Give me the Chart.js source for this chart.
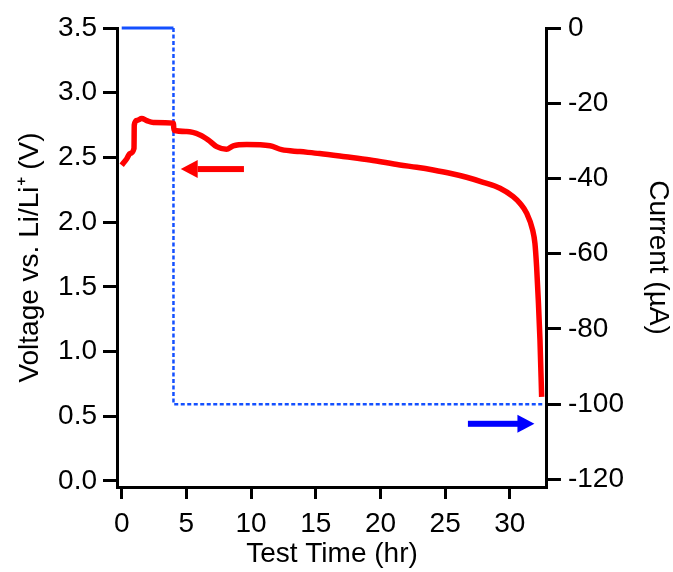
<!DOCTYPE html>
<html>
<head>
<meta charset="utf-8">
<script src="https://cdn.jsdelivr.net/npm/chart.js@4.4.1/dist/chart.umd.min.js"></script>
<style>
  html, body { margin: 0; padding: 0; background: #fff; }
  #wrap { width: 673px; height: 572px; }
</style>
</head>
<body>
<div id="wrap"><canvas id="chart" width="673" height="572"></canvas></div>
<script>
// voltage trace (left axis)
const timeHr = [0, 0.39, 0.64, 0.95, 0.97, 1.16, 1.55, 1.93, 2.44, 3.99, 4.04, 5.02, 6.05, 6.69, 7.34, 8.1, 8.62, 9.66, 11.46, 12.36, 13.78, 15.3, 17.3, 19.2, 21.5, 22.8, 24.08, 25.37, 26.66, 27.94, 29.24, 30.26, 30.78, 31.3, 31.76, 31.94, 32.07, 32.2, 32.33, 32.46];
const voltage = [2.44, 2.49, 2.53, 2.57, 2.75, 2.785, 2.80, 2.785, 2.77, 2.765, 2.71, 2.70, 2.674, 2.635, 2.583, 2.563, 2.59, 2.60, 2.59, 2.56, 2.545, 2.53, 2.505, 2.48, 2.442, 2.424, 2.403, 2.378, 2.347, 2.308, 2.262, 2.197, 2.146, 2.069, 1.94, 1.837, 1.656, 1.40, 1.09, 0.65];

// applied current (right axis): rest at 0, then constant discharge
const currentTime = [0, 4.0, 4.0, 32.55];
const current = [0, 0, -100, -100];

// tick labels
const timeTicks = [0, 5, 10, 15, 20, 25, 30];
const voltTicks = [0, 0.5, 1.0, 1.5, 2.0, 2.5, 3.0, 3.5];
const currTicks = [0, -20, -40, -60, -80, -100, -120];

// arrows pointing to the axis each trace belongs to (data units)
const arrows = [
  { axis: "y", x0: 9.37, x1: 4.56, v: 2.41, color: "#ff0000" },
  { axis: "y1", x0: 26.76, x1: 31.9, v: -105.2, color: "#0000ff" }
];

const FONT = { family: "'Liberation Sans', Arial, sans-serif", size: 28 };

const arrowPlugin = {
  id: "arrows",
  afterDatasetsDraw(chart) {
    const ctx = chart.ctx;
    const xs = chart.scales.x;
    arrows.forEach(a => {
      const ys = chart.scales[a.axis];
      const px0 = xs.getPixelForValue(a.x0);
      const px1 = xs.getPixelForValue(a.x1);
      const py = ys.getPixelForValue(a.v);
      const dir = Math.sign(px1 - px0);
      const head = 17;
      ctx.save();
      ctx.fillStyle = a.color;
      ctx.fillRect(Math.min(px0, px1 - dir * head), py - 3, Math.abs(px1 - px0) - head + 1, 6);
      ctx.beginPath();
      ctx.moveTo(px1, py);
      ctx.lineTo(px1 - dir * head, py - 9);
      ctx.lineTo(px1 - dir * head, py + 9);
      ctx.closePath();
      ctx.fill();
      ctx.restore();
    });
  }
};

const grid = { drawOnChartArea: false, color: "#000", lineWidth: 3, tickLength: 14 };
const border = { color: "#000", width: 3 };

const pts = (xs, ys) => xs.map((t, i) => ({ x: t, y: ys[i] }));

new Chart(document.getElementById("chart"), {
  type: "line",
  data: {
    datasets: [{
      label: "Voltage",
      data: pts(timeHr, voltage),
      yAxisID: "y",
      borderColor: "#ff0000",
      borderWidth: 5.5,
      borderJoinStyle: "round",
      cubicInterpolationMode: "monotone",
      pointRadius: 0
    }, {
      label: "Current (rest)",
      data: pts(currentTime.slice(0, 2), current.slice(0, 2)),
      yAxisID: "y1",
      borderColor: "#1450ff",
      borderWidth: 3,
      pointRadius: 0,
      clip: false
    }, {
      label: "Current (discharge)",
      data: pts(currentTime.slice(1), current.slice(1)),
      yAxisID: "y1",
      borderColor: "#1450ff",
      borderWidth: 2.5,
      borderDash: [4, 2.5],
      pointRadius: 0,
      clip: false
    }]
  },
  options: {
    responsive: false,
    animation: false,
    layout: { padding: { top: 28, left: 13, right: 0, bottom: 0 } },
    plugins: { legend: { display: false }, tooltip: { enabled: false } },
    scales: {
      x: {
        type: "linear",
        min: -0.363, max: 32.87,
        afterBuildTicks: s => { s.ticks = timeTicks.map(v => ({ value: v })); },
        grid: { ...grid, tickLength: 12 },
        border,
        ticks: { color: "#000", font: FONT, padding: 8.7, maxRotation: 0 },
        title: { display: true, text: "Test Time (hr)", color: "#000", font: FONT, padding: { top: -12.8, bottom: 1.2 } }
      },
      y: {
        position: "left",
        min: -0.0464, max: 3.5,
        afterBuildTicks: s => { s.ticks = voltTicks.map(v => ({ value: v })); },
        grid,
        border,
        ticks: { color: "#000", font: FONT, padding: 6, callback: v => v.toFixed(1) },
        title: { display: true, text: "Voltage vs. Li/Li\u207A (V)", color: "#000", font: FONT, padding: { top: 0, bottom: 5.5 } }
      },
      y1: {
        position: "right",
        min: -122, max: 0,
        afterBuildTicks: s => { s.ticks = currTicks.map(v => ({ value: v })); },
        grid,
        border,
        ticks: { color: "#000", font: FONT, padding: 7 },
        title: { display: true, text: "Current (\u00B5A)", color: "#000", font: FONT, padding: { top: -1.8, bottom: 10.2 } }
      }
    }
  },
  plugins: [arrowPlugin]
});
</script>
</body>
</html>
